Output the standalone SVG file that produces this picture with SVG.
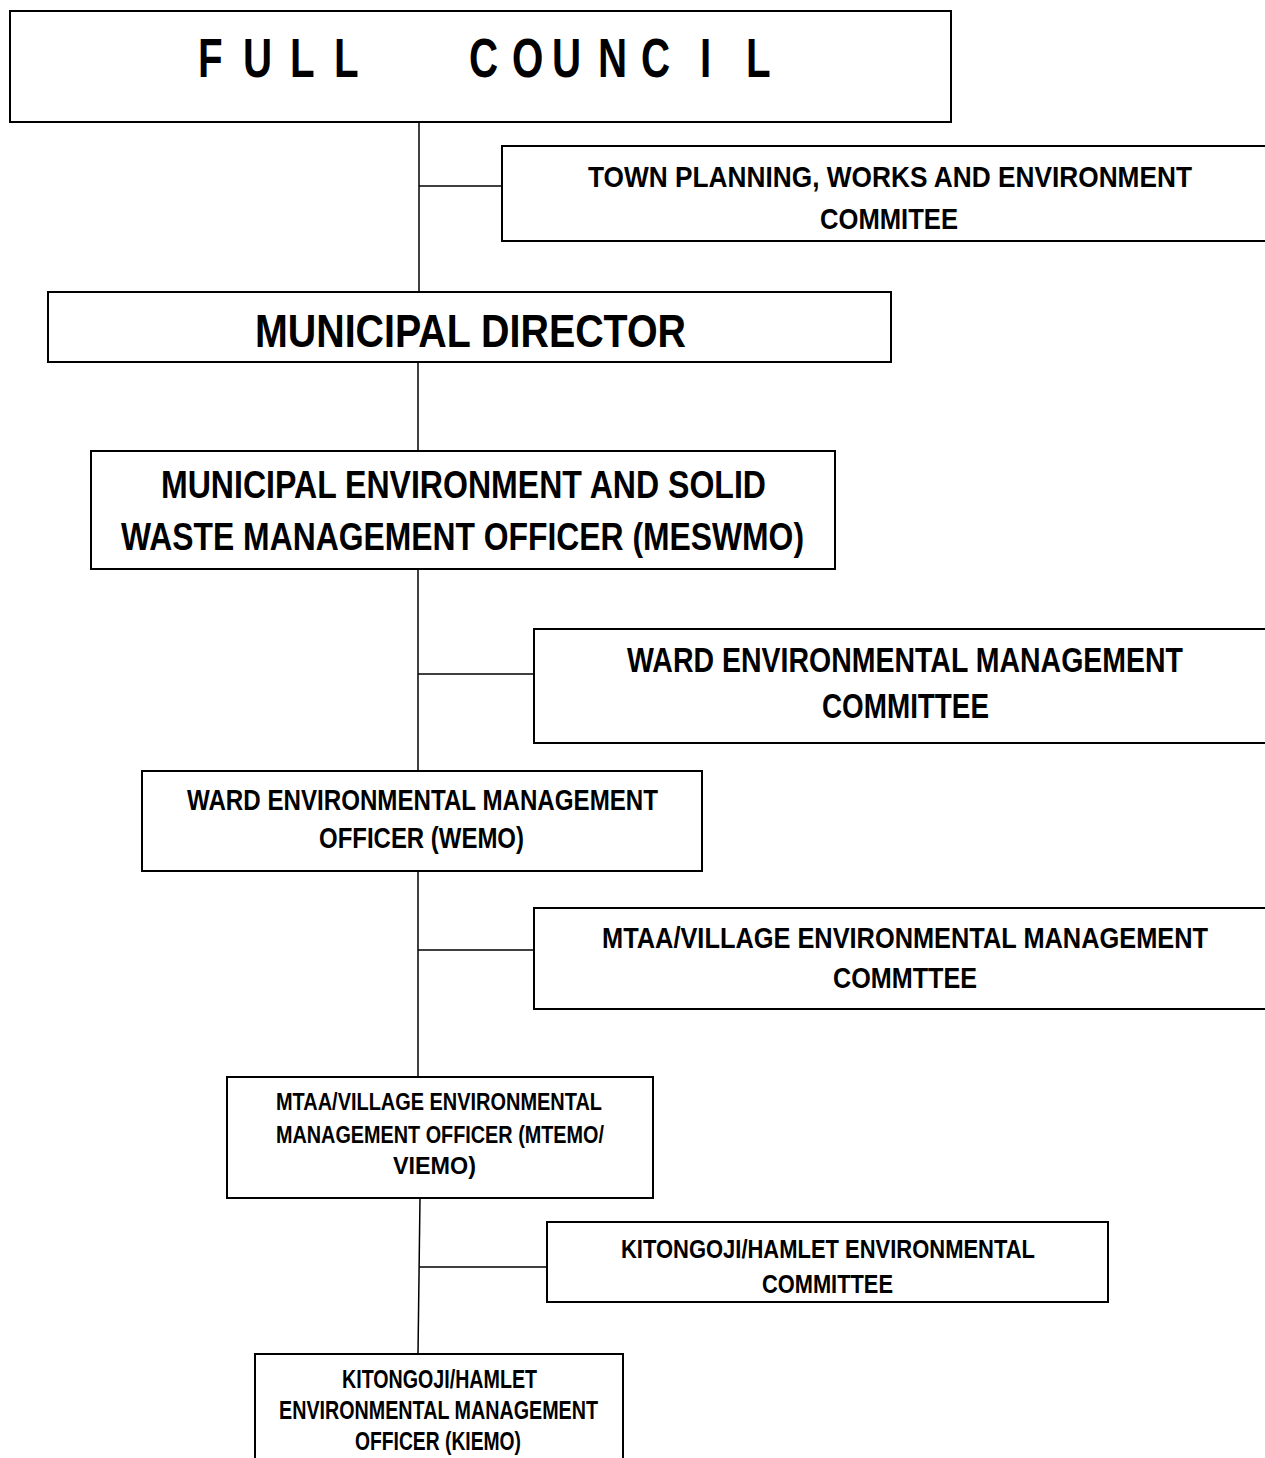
<svg xmlns="http://www.w3.org/2000/svg" width="1265" height="1458" viewBox="0 0 1265 1458">
<style>
.box{fill:#fff;stroke:#000;stroke-width:2}
.ln{stroke:#000;stroke-width:1.5;fill:none}
text{font-family:"Liberation Sans Narrow","Liberation Sans",Arial,sans-serif;font-weight:bold;fill:#000;text-anchor:middle}
.fc{text-anchor:start}
</style>
<rect width="1265" height="1458" fill="#fff"/>
<g id="connectors">
<line class="ln" x1="419" y1="122" x2="419" y2="292"/>
<line class="ln" x1="419" y1="186" x2="502" y2="186"/>
<line class="ln" x1="418" y1="362" x2="418" y2="451"/>
<line class="ln" x1="418" y1="569" x2="418" y2="771"/>
<line class="ln" x1="418" y1="674" x2="534" y2="674"/>
<line class="ln" x1="418" y1="871" x2="418" y2="1077"/>
<line class="ln" x1="418" y1="950" x2="534" y2="950"/>
<line class="ln" x1="420" y1="1198" x2="418" y2="1354"/>
<line class="ln" x1="419" y1="1267" x2="547" y2="1267"/>
</g>
<g id="full-council">
<rect class="box" x="10" y="11" width="941" height="111"/>
<text class="fc" transform="scale(0.72,1)" y="77" font-size="56" x="275 337.5 402.8 463.9 570 651.4 711.1 766.7 830.6 890.3 972.2 1036.1">FULL COUNCIL</text>
</g>
<g id="town-planning">
<rect class="box" x="502" y="146" width="765" height="95"/>
<text x="890" y="187" font-size="30" textLength="604" lengthAdjust="spacingAndGlyphs">TOWN PLANNING, WORKS AND ENVIRONMENT</text>
<text x="889" y="229" font-size="30" textLength="138" lengthAdjust="spacingAndGlyphs">COMMITEE</text>
</g>
<g id="municipal-director">
<rect class="box" x="48" y="292" width="843" height="70"/>
<text x="470.5" y="347" font-size="47" textLength="431" lengthAdjust="spacingAndGlyphs">MUNICIPAL DIRECTOR</text>
</g>
<g id="meswmo">
<rect class="box" x="91" y="451" width="744" height="118"/>
<text x="463.5" y="498" font-size="38" textLength="605" lengthAdjust="spacingAndGlyphs">MUNICIPAL ENVIRONMENT AND SOLID</text>
<text x="462.5" y="550" font-size="38" textLength="683" lengthAdjust="spacingAndGlyphs">WASTE MANAGEMENT OFFICER (MESWMO)</text>
</g>
<g id="ward-committee">
<rect class="box" x="534" y="629" width="733" height="114"/>
<text x="905" y="672" font-size="35" textLength="556" lengthAdjust="spacingAndGlyphs">WARD ENVIRONMENTAL MANAGEMENT</text>
<text x="905.5" y="718" font-size="35" textLength="167" lengthAdjust="spacingAndGlyphs">COMMITTEE</text>
</g>
<g id="wemo">
<rect class="box" x="142" y="771" width="560" height="100"/>
<text x="422.5" y="810" font-size="29" textLength="471" lengthAdjust="spacingAndGlyphs">WARD ENVIRONMENTAL MANAGEMENT</text>
<text x="421.5" y="848" font-size="29" textLength="205" lengthAdjust="spacingAndGlyphs">OFFICER (WEMO)</text>
</g>
<g id="mtaa-committee">
<rect class="box" x="534" y="908" width="733" height="101"/>
<text x="905" y="948" font-size="29" textLength="606" lengthAdjust="spacingAndGlyphs">MTAA/VILLAGE ENVIRONMENTAL MANAGEMENT</text>
<text x="905" y="988" font-size="29" textLength="144" lengthAdjust="spacingAndGlyphs">COMMTTEE</text>
</g>
<g id="mtemo">
<rect class="box" x="227" y="1077" width="426" height="121"/>
<text x="439" y="1110" font-size="24" textLength="326" lengthAdjust="spacingAndGlyphs">MTAA/VILLAGE ENVIRONMENTAL</text>
<text x="440" y="1143" font-size="24" textLength="328" lengthAdjust="spacingAndGlyphs">MANAGEMENT OFFICER (MTEMO/</text>
<text x="434.5" y="1174" font-size="24" textLength="83" lengthAdjust="spacingAndGlyphs">VIEMO)</text>
</g>
<g id="kitongoji-committee">
<rect class="box" x="547" y="1222" width="561" height="80"/>
<text x="828" y="1258" font-size="26" textLength="414" lengthAdjust="spacingAndGlyphs">KITONGOJI/HAMLET ENVIRONMENTAL</text>
<text x="827.5" y="1293" font-size="26" textLength="131" lengthAdjust="spacingAndGlyphs">COMMITTEE</text>
</g>
<g id="kiemo">
<rect class="box" x="255" y="1354" width="368" height="110"/>
<text x="439.5" y="1388" font-size="25" textLength="195" lengthAdjust="spacingAndGlyphs">KITONGOJI/HAMLET</text>
<text x="438.5" y="1419" font-size="25" textLength="319" lengthAdjust="spacingAndGlyphs">ENVIRONMENTAL MANAGEMENT</text>
<text x="438" y="1450" font-size="25" textLength="166" lengthAdjust="spacingAndGlyphs">OFFICER (KIEMO)</text>
</g>
</svg>
